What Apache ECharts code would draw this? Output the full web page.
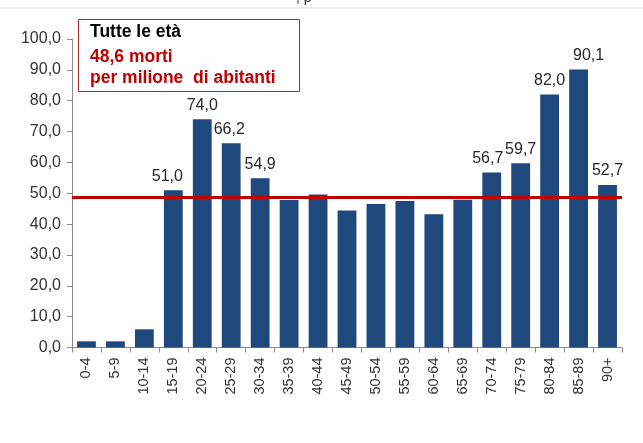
<!DOCTYPE html>
<html>
<head>
<meta charset="utf-8">
<script src="https://cdn.jsdelivr.net/npm/echarts@6/dist/echarts.min.js"></script>
<style>
  html, body { margin: 0; padding: 0; background: #fff; }
  #chart { width: 643px; height: 443px; }
</style>
</head>
<body>
<div id="chart"></div>
<script>
// age groups and deaths per million inhabitants
const ageGroups = ['0-4', '5-9', '10-14', '15-19', '20-24', '25-29', '30-34', '35-39', '40-44', '45-49',
  '50-54', '55-59', '60-64', '65-69', '70-74', '75-79', '80-84', '85-89', '90+'];
const deathsPerMillion = [2.0, 2.0, 5.9, 51.0, 74.0, 66.2, 54.9, 47.8, 49.6, 44.4,
  46.5, 47.5, 43.2, 47.9, 56.7, 59.7, 82.0, 90.1, 52.7];
// which bars carry a value label
const labelledGroups = ['15-19', '20-24', '25-29', '30-34', '70-74', '75-79', '80-84', '85-89', '90+'];
const overallRate = 48.6;
const boxLines = ['Tutte le età', '48,6 morti', 'per milione  di abitanti'];

const fmt = (v) => v.toFixed(1).replace('.', ',');

// small nudges of a few labels, as in the original slide
const labelShift = { '15-19': [-6, 0], '25-29': [-2, 0], '70-74': [-4, 0], '85-89': [10, 0] };

const chart = echarts.init(document.getElementById('chart'));

const barData = deathsPerMillion.map((v, i) => ({
  value: v,
  label: {
    show: labelledGroups.includes(ageGroups[i]),
    offset: labelShift[ageGroups[i]] || [0, 0]
  }
}));

const option = {
  animation: false,
  textStyle: { fontFamily: 'Liberation Sans, Arial, sans-serif' },
  grid: { left: 72, right: 21, top: 39, bottom: 95.5 },
  xAxis: {
    type: 'category',
    data: ageGroups,
    axisLine: { lineStyle: { color: '#8c8c8c', width: 1 } },
    axisTick: { show: true, length: 5, lineStyle: { color: '#8c8c8c' } },
    axisLabel: { interval: 0, rotate: 90, margin: 10, fontSize: 14.5, color: '#333' }
  },
  yAxis: {
    type: 'value',
    min: 0,
    max: 100,
    interval: 10,
    splitLine: { show: false },
    axisLine: { show: true, lineStyle: { color: '#8c8c8c', width: 1 } },
    axisTick: { show: true, length: 5, lineStyle: { color: '#8c8c8c' } },
    axisLabel: { margin: 11, fontSize: 16, color: '#333', formatter: fmt }
  },
  series: [{
    type: 'bar',
    data: barData,
    barWidth: '65%',
    itemStyle: { color: '#1F497D' },
    label: {
      position: 'top',
      distance: 6,
      fontSize: 16,
      color: '#262626',
      formatter: (p) => fmt(p.value)
    },
    markLine: {
      silent: true,
      symbol: 'none',
      label: { show: false },
      lineStyle: { color: '#C00000', width: 3, type: 'solid' },
      data: [{ yAxis: overallRate }]
    }
  }],
  graphic: [
    { type: 'text', x: 296, y: -9, style: { text: ', p', fill: '#333', font: '14px Liberation Sans' } },
    { type: 'line', shape: { x1: 0, y1: 8, x2: 643, y2: 8 }, style: { stroke: '#d9d9d9', lineWidth: 1 } },
    { type: 'rect', shape: { x: 78.5, y: 19.5, width: 221, height: 72 },
      style: { fill: '#fff', stroke: '#A52A2A', lineWidth: 1 } },
    { type: 'text', x: 90, y: 32.5, style: { text: boxLines[0], fill: '#000', font: 'bold 17.5px Liberation Sans', verticalAlign: 'middle' } },
    { type: 'text', x: 90, y: 57.5, style: { text: boxLines[1], fill: '#C00000', font: 'bold 17.5px Liberation Sans', verticalAlign: 'middle' } },
    { type: 'text', x: 90, y: 78, style: { text: boxLines[2], fill: '#C00000', font: 'bold 17.5px Liberation Sans', verticalAlign: 'middle' } }
  ]
};

chart.setOption(option);
</script>
</body>
</html>
